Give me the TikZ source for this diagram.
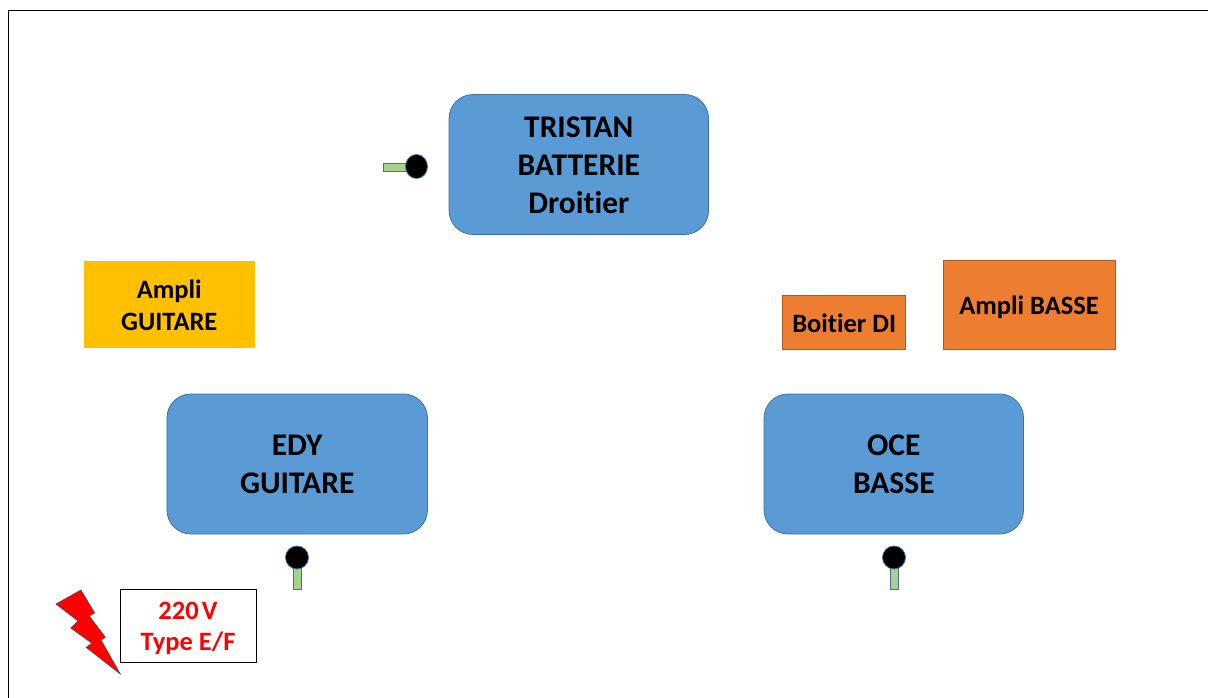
\documentclass[tikz,border=0pt]{standalone}
\usepackage{fontspec}
\setmainfont[Ligatures=NoCommon]{Carlito}
\definecolor{blueb}{HTML}{5B9BD5}
\definecolor{blueedge}{HTML}{41719C}
\definecolor{orangeb}{HTML}{ED7D31}
\definecolor{orangeedge}{HTML}{AE5A21}
\definecolor{yellowb}{HTML}{FFC000}
\definecolor{greenb}{HTML}{A9D18E}
\newcommand{\nudge}[1]{\rule{0pt}{#1}}
\tikzset{
  person/.style={draw=blueedge,fill=blueb,line width=0.8pt,rounded corners=24pt,inner sep=0pt,align=center,font=\bfseries\fontsize{31.5}{38}\selectfont,text=black},
  amp/.style={draw=orangeedge,fill=orangeb,line width=0.8pt,inner sep=0pt,align=center,font=\bfseries\fontsize{26.5}{32}\selectfont,text=black},
  micbody/.style={draw=blueedge,fill=greenb,line width=0.8pt},
  michead/.style={draw=blueedge,fill=black,line width=0.8pt,ellipse,inner sep=0pt},
}
\usetikzlibrary{shapes.geometric}
\begin{document}
\begin{tikzpicture}[x=1pt,y=-1pt]
\useasboundingbox (0,0) rectangle (1208,698);
\fill[white] (0,0) rectangle (1208,698);
\coordinate (fa) at (8.5,698);
\coordinate (fb) at (8.5,10.5);
\coordinate (fc) at (1208,10.5);
\draw[black,line width=1pt] (fa) -- (fb) -- (fc);

\node[person,minimum width=259.5pt,minimum height=140pt] (tristan) at (578.8,164.5) {\nudge{22.5pt}TRISTAN\\BATTERIE\\Droitier};
\node[person,minimum width=260.5pt,minimum height=140pt] (edy) at (297.2,464) {\nudge{22pt}EDY\\GUITARE};
\node[person,minimum width=259.5pt,minimum height=140pt] (oce) at (893.8,464) {\nudge{22pt}OCE\\BASSE};

\node[amp,draw=none,fill=yellowb,minimum width=170.5pt,minimum height=87pt] (guitare) at (169.3,304.5) {\nudge{20pt}Ampli\\GUITARE};
\node[amp,minimum width=123pt,minimum height=54pt] (di) at (844.2,322.5) {\nudge{20pt}Boitier DI};
\node[amp,minimum width=172pt,minimum height=89pt] (basse) at (1029,305) {\nudge{23pt}Ampli BASSE};

\node[draw=black,fill=white,line width=0.8pt,minimum width=136pt,minimum height=73pt,inner sep=0pt,align=center,text=red,font=\bfseries\fontsize{26.5}{31}\selectfont] (power) at (188,626) {\nudge{23pt}220\hspace{0.12em}V\\Type E/F};
\draw[draw=black!70,fill=red,line width=0.6pt] (56,604) -- (81,590) -- (94.7,613) -- (89.3,616) -- (105.3,637.3) -- (101,640) -- (120.3,674) -- (86,647.3) -- (92,643.3) -- (70.7,628) -- (78,621) -- cycle;

\draw[micbody] (383.5,163) rectangle (408,171.5);
\node[michead,minimum width=22pt,minimum height=24pt] (m1) at (416.5,166.5) {};
\draw[micbody] (293.5,565) rectangle (301.5,589.5);
\node[michead,minimum width=23pt,minimum height=23pt] (m2) at (297,557.5) {};
\draw[micbody] (890.5,565) rectangle (898.5,589.5);
\node[michead,minimum width=23pt,minimum height=23pt] (m3) at (894,557.5) {};
\end{tikzpicture}
\end{document}
